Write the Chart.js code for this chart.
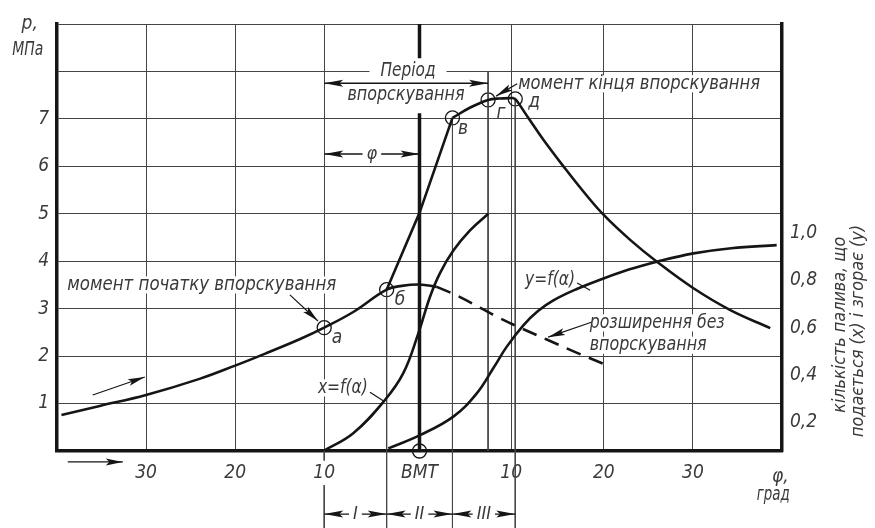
<!DOCTYPE html>
<html>
<head>
<meta charset="utf-8">
<title>Тиск у циліндрі дизеля</title>
<script src="https://cdn.jsdelivr.net/npm/chart.js@4.4.1/dist/chart.umd.min.js"></script>
<style>
  html, body { margin: 0; padding: 0; background: #fff; }
  #wrap { width: 875px; height: 528px; }
</style>
</head>
<body>
<div id="wrap"><canvas id="chart" width="875" height="528"></canvas></div>
<script>
/*---------- Data ----------*/
// x = crank angle, degrees (ВМТ = 0), p = pressure, MPa
const compX = [-40.2, -35.9, -30.7, -24.7, -20.7, -17.1, -13.4, -10.7, -7.44, -3.69, -2.0, 0, 1.93];
const compP = [0.76, 0.95, 1.18, 1.52, 1.80, 2.07, 2.36, 2.60, 2.93, 3.40, 3.48, 3.51, 3.46];

// expansion without injection (dashed)
const dashX = [1.93, 4.5, 7.0, 9.0, 11.5, 14.29, 17.3, 20.6];
const dashP = [3.46, 3.25, 3.00, 2.80, 2.58, 2.35, 2.10, 1.84];

// combustion: б -> в, в -> д, д -> end
const comb1X = [-3.69, 0, 3.7];
const comb1P = [3.40, 5.02, 7.02];
const comb2X = [3.7, 5.7, 7.7, 9.0, 10.6];
const comb2P = [7.02, 7.24, 7.40, 7.43, 7.44];
const comb3X = [10.6, 10.92, 12.4, 13.91, 16.16, 18.4, 20.71, 23.65, 26.65, 30.76, 34.9, 39.38];
const comb3P = [7.44, 7.38, 6.97, 6.56, 6.00, 5.47, 4.97, 4.45, 3.99, 3.43, 2.97, 2.59];

// fuel fractions (right axis): x = supplied, y = burnt
const xfX = [-10.8, -7.44, -3.88, -1.82, -0.13, 1.18, 2.3, 3.8, 5.67, 7.73];
const xfR = [0, 0.075, 0.215, 0.328, 0.496, 0.65, 0.75, 0.845, 0.93, 1.0];
const yfX = [-3.5, 0.06, 3.8, 6.43, 8.3, 9.8, 11.66, 13.3, 15.03, 17.66, 20.28, 23.5, 26.65, 30.76, 35.0, 40.1];
const yfR = [0.011, 0.067, 0.145, 0.243, 0.35, 0.44, 0.53, 0.59, 0.635, 0.683, 0.722, 0.765, 0.798, 0.833, 0.855, 0.868];

// marked points а, б, в, г, д and ВМТ
const keyX = [-10.7, -3.69, 3.7, 7.7, 10.75, 0];
const keyP = [2.60, 3.40, 7.02, 7.40, 7.42, 0];

// construction lines [x, from, to]
const guideSegs = [[-10.7, 0, -0.2], [-10.7, -0.72, -1.7], [-3.69, 3.40, -1.7], [3.7, 7.02, -1.7], [7.7, 8, 0], [10.75, 7.42, -1.7]];
const bmtSegs = [[0, 0, 7.12], [0, 8.28, 9]];

// x axis ticks
const xTickPos = [-30.7, -20.7, -10.7, 0, 10.3, 20.7, 30.7];
const xTickLabels = ['30', '20', '10', 'ВМТ', '10', '20', '30'];

/*---------- Styles ----------*/
const FONT = '"Liberation Sans Narrow", "DejaVu Sans Condensed", Roboto, sans-serif';
const INK = '#151515';
const TXT = '#3a3a3a';
const GRID = '#444';
const tickFont = { family: FONT, size: 19, style: 'italic' };

const pts = (xs, ys) => xs.map((x, i) => ({ x: x, y: ys[i] }));
const segs = list => {
  const out = [];
  list.forEach(s => {
    out.push({ x: s[0], y: s[1] }, { x: s[0], y: s[2] }, { x: s[0], y: null });
  });
  return out;
};

function curve(data, extra) {
  return Object.assign({
    data: data,
    borderColor: INK,
    borderWidth: 2.6,
    pointRadius: 0,
    tension: 0.4,
    fill: false
  }, extra || {});
}

/*---------- Annotations ----------*/
const notes = [
  { t: 'Період', x: -1.29, y: 8.01, w: 55, size: 19, bg: true, pad: 11 },
  { t: 'впорскування', x: -1.52, y: 7.50, w: 117, size: 19, bg: true },
  { t: 'момент кінця впорскування', x: 24.66, y: 7.74, w: 242, size: 19, bg: true },
  { t: 'момент початку впорскування', x: -24.44, y: 3.50, w: 269, size: 19, bg: true },
  { t: 'x=f(α)', x: -8.6, y: 1.33, w: 50, size: 19, bg: true },
  { t: 'y=f(α)', x: 14.66, y: 3.60, w: 50, size: 19, bg: true },
  { t: 'розширення без', x: 26.69, y: 2.70, w: 135, size: 19, bg: true },
  { t: 'впорскування', x: 25.67, y: 2.23, w: 117, size: 19, bg: true },
  { t: 'а', x: -9.27, y: 2.38, size: 19 },
  { t: 'б', x: -2.19, y: 3.18, size: 19 },
  { t: 'в', x: 4.89, y: 6.79, size: 19 },
  { t: 'г', x: 9.16, y: 7.12, size: 19 },
  { t: 'д', x: 12.87, y: 7.36, size: 19 },
  { t: 'p,', x: -43.76, y: 9.0, size: 19 },
  { t: 'МПа', x: -43.99, y: 8.45, w: 31, size: 19 },
  { t: 'φ,', x: 40.51, y: -0.55, size: 19 },
  { t: 'град', x: 39.72, y: -0.93, w: 33, size: 19 },
  { t: 'кількість палива, що', x: 47.25, y: 2.66, w: 176, size: 18, rot: true },
  { t: 'подається (x) і згорає (y)', x: 49.27, y: 2.53, w: 212, size: 18, rot: true }
];
const arrows = [
  [-36.69, 1.18, -30.84, 1.56],
  [-39.49, -0.23, -33.31, -0.23],
  [-14.55, 3.29, -11.40, 2.74],
  [10.96, 7.74, 8.6, 7.48],
  [19.38, 2.72, 14.44, 2.40]
];
const leaders = [[-5.56, 1.24, -3.99, 1.05], [17.7, 3.54, 19.16, 3.39]];
const dims = [
  [-10.7, 7.7, 7.75, ''],
  [-10.7, 0, 6.26, 'φ'],
  [-10.7, -3.69, -1.33, 'I'],
  [-3.69, 3.7, -1.33, 'II'],
  [3.7, 10.75, -1.33, 'III']
];

function head(ctx, x1, y1, x2, y2, len, hw) {
  const a = Math.atan2(y2 - y1, x2 - x1);
  ctx.save();
  ctx.translate(x2, y2);
  ctx.rotate(a);
  ctx.beginPath();
  ctx.moveTo(0, 0);
  ctx.lineTo(-len, -hw);
  ctx.lineTo(-len * 0.8, 0);
  ctx.lineTo(-len, hw);
  ctx.closePath();
  ctx.fill();
  ctx.restore();
}

function line(ctx, x1, y1, x2, y2, w) {
  ctx.lineWidth = w;
  ctx.beginPath();
  ctx.moveTo(x1, y1);
  ctx.lineTo(x2, y2);
  ctx.stroke();
}

function drawNote(ctx, n, px, py) {
  ctx.save();
  ctx.font = 'italic ' + n.size + 'px ' + FONT;
  const nat = ctx.measureText(n.t).width;
  const k = n.w ? n.w / nat : 1;
  ctx.translate(px, py);
  if (n.rot) ctx.rotate(-Math.PI / 2);
  ctx.scale(k, 1);
  ctx.textAlign = 'center';
  ctx.textBaseline = 'middle';
  ctx.fillStyle = TXT;
  ctx.fillText(n.t, 0, 0);
  ctx.restore();
}

const notesPlugin = {
  id: 'notes',
  beforeDatasetsDraw(chart) {
    const ctx = chart.ctx, sx = chart.scales.x, sy = chart.scales.y;
    ctx.save();
    ctx.fillStyle = '#fff';
    notes.forEach(n => {
      if (!n.bg) return;
      const px = sx.getPixelForValue(n.x), py = sy.getPixelForValue(n.y);
      const pad = n.pad || 3;
      ctx.fillRect(px - n.w / 2 - pad, py - n.size * 0.45, n.w + 2 * pad, n.size * 0.9);
    });
    ctx.restore();
  },
  afterDatasetsDraw(chart) {
    const ctx = chart.ctx, sx = chart.scales.x, sy = chart.scales.y;
    const X = v => sx.getPixelForValue(v), Y = v => sy.getPixelForValue(v);
    ctx.save();
    ctx.strokeStyle = INK;
    ctx.fillStyle = INK;

    // pointer arrows
    arrows.forEach(a => {
      line(ctx, X(a[0]), Y(a[1]), X(a[2]), Y(a[3]), 1.2);
      head(ctx, X(a[0]), Y(a[1]), X(a[2]), Y(a[3]), 17, 3.5);
    });
    leaders.forEach(a => line(ctx, X(a[0]), Y(a[1]), X(a[2]), Y(a[3]), 1.2));

    // dimension lines with arrows at both ends
    dims.forEach(d => {
      const x1 = X(d[0]), x2 = X(d[1]), y = Y(d[2]);
      ctx.strokeStyle = INK;
      ctx.fillStyle = INK;
      line(ctx, x1, y, x2, y, 1.4);
      head(ctx, x2, y, x1, y, 19, 3.5);
      head(ctx, x1, y, x2, y, 19, 3.5);
      if (d[3]) {
        const cx = (x1 + x2) / 2;
        ctx.font = 'italic 18px ' + FONT;
        const w = ctx.measureText(d[3]).width;
        ctx.fillStyle = '#fff';
        ctx.fillRect(cx - w / 2 - 4, y - 8, w + 8, 16);
        drawNote(ctx, { t: d[3], size: 18 }, cx, y);
      }
    });

    notes.forEach(n => drawNote(ctx, n, X(n.x), Y(n.y)));
    ctx.restore();
  }
};

/*---------- Chart ----------*/
const chart = new Chart(document.getElementById('chart'), {
  type: 'line',
  data: {
    datasets: [
      curve(pts(compX, compP)),
      curve(pts(dashX, dashP), { borderDash: [15, 9] }),
      curve(pts(comb1X, comb1P), { tension: 0 }),
      curve(pts(comb2X, comb2P)),
      curve(pts(comb3X, comb3P)),
      curve(pts(xfX, xfR), { yAxisID: 'y2' }),
      curve(pts(yfX, yfR), { yAxisID: 'y2' }),
      curve(segs(bmtSegs), { borderWidth: 3.5, tension: 0, spanGaps: false }),
      curve(segs(guideSegs), { borderWidth: 1, borderColor: GRID, tension: 0, spanGaps: false, clip: false }),
      {
        data: pts(keyX, keyP),
        showLine: false,
        pointRadius: 7,
        pointBorderWidth: 1.3,
        pointBorderColor: INK,
        pointBackgroundColor: 'rgba(0,0,0,0)',
        clip: false
      }
    ]
  },
  options: {
    responsive: false,
    animation: false,
    devicePixelRatio: 1,
    layout: { padding: { top: 24, left: 0, right: 0, bottom: 0 } },
    plugins: { legend: { display: false }, tooltip: { enabled: false } },
    scales: {
      x: {
        type: 'linear',
        min: -40.7,
        max: 40.7,
        afterBuildTicks: s => { s.ticks = xTickPos.map(v => ({ value: v })); },
        afterFit: s => { s.height = 77; },
        ticks: {
          autoSkip: false,
          maxRotation: 0,
          padding: 11,
          color: TXT,
          font: tickFont,
          callback: (v, i) => xTickLabels[i]
        },
        grid: {
          color: c => (c.tick && c.tick.value === 0) ? 'rgba(0,0,0,0)' : GRID,
          lineWidth: 1,
          drawTicks: false
        },
        border: { color: INK, width: 3.5 }
      },
      y: {
        position: 'left',
        min: 0,
        max: 9,
        afterFit: s => { s.width = 57; },
        ticks: {
          stepSize: 1,
          padding: 8,
          color: TXT,
          font: tickFont,
          callback: v => (v >= 1 && v <= 7) ? String(v) : ''
        },
        grid: { color: GRID, lineWidth: 1, drawTicks: false },
        border: { color: INK, width: 3.5 }
      },
      y2: {
        position: 'right',
        min: 0,
        max: 1.8,
        afterFit: s => { s.width = 93; },
        ticks: {
          stepSize: 0.2,
          padding: 8,
          labelOffset: 19,
          color: TXT,
          font: tickFont,
          callback: v => {
            const r = Math.round(v * 10) / 10;
            return (r > 0 && r <= 1.0) ? r.toFixed(1).replace('.', ',') : '';
          }
        },
        grid: { display: false, drawTicks: false },
        border: { color: INK, width: 3.5 }
      }
    }
  },
  plugins: [notesPlugin]
});
</script>
</body>
</html>
